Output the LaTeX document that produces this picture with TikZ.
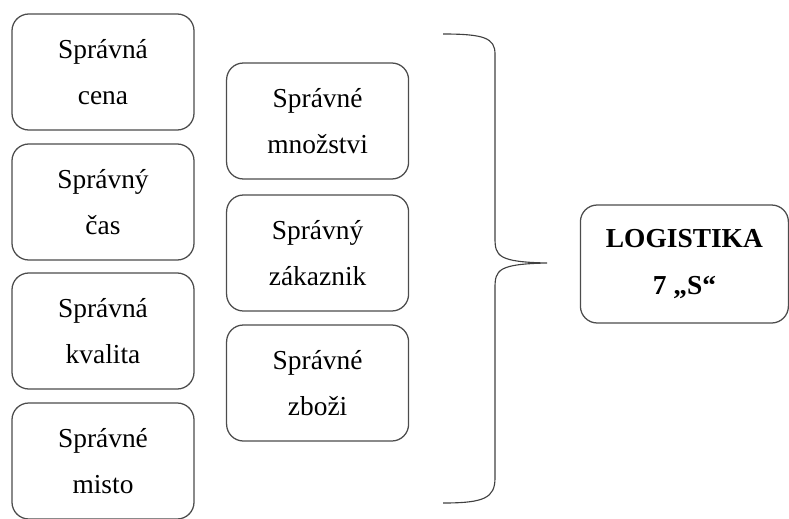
\documentclass[tikz,border=0pt]{standalone}
\usepackage{fontspec}
\setmainfont{LiberationSerif-Regular.ttf}[BoldFont=LiberationSerif-Bold.ttf]

\begin{document}
\begin{tikzpicture}[
  sbox/.style={draw=black!70,line width=0.9pt,rounded corners=0.42cm,
    minimum width=4.55cm,minimum height=2.9cm,align=center,
    font=\fontsize{19.5}{33}\selectfont},
  mainbox/.style={sbox,minimum width=5.2cm,minimum height=2.95cm,
    font=\fontsize{19.5}{33}\selectfont\bfseries}]
\useasboundingbox (0,0) rectangle (19.725,12.95);

% left column
\node[sbox] (cena) at (2.575,11.15) {Správná\\cena};
\node[sbox] (cas) at (2.575,7.9) {Správný\\čas};
\node[sbox] (kvalita) at (2.575,4.675) {Správná\\kvalita};
\node[sbox] (misto) at (2.575,1.425) {Správné\\misto};

% middle column
\node[sbox] (mnozstvi) at (7.94,9.925) {Správné\\množstvi};
\node[sbox] (zakaznik) at (7.94,6.625) {Správný\\zákaznik};
\node[sbox] (zbozi) at (7.94,3.375) {Správné\\zboži};

\node[mainbox] (logistika) at (17.11,6.35) {LOGISTIKA\\7 „S“};

% brace
\draw[black!75,line width=0.8pt]
  (11.075,12.1) .. controls (12.1,12.1) and (12.375,12.0) .. (12.375,11.6)
  -- (12.375,7.0) .. controls (12.375,6.55) and (12.45,6.4) .. (13.675,6.375)
  .. controls (12.45,6.35) and (12.375,6.2) .. (12.375,5.75)
  -- (12.375,1.0) .. controls (12.375,0.5) and (12.1,0.375) .. (11.075,0.375);
\end{tikzpicture}
\end{document}
